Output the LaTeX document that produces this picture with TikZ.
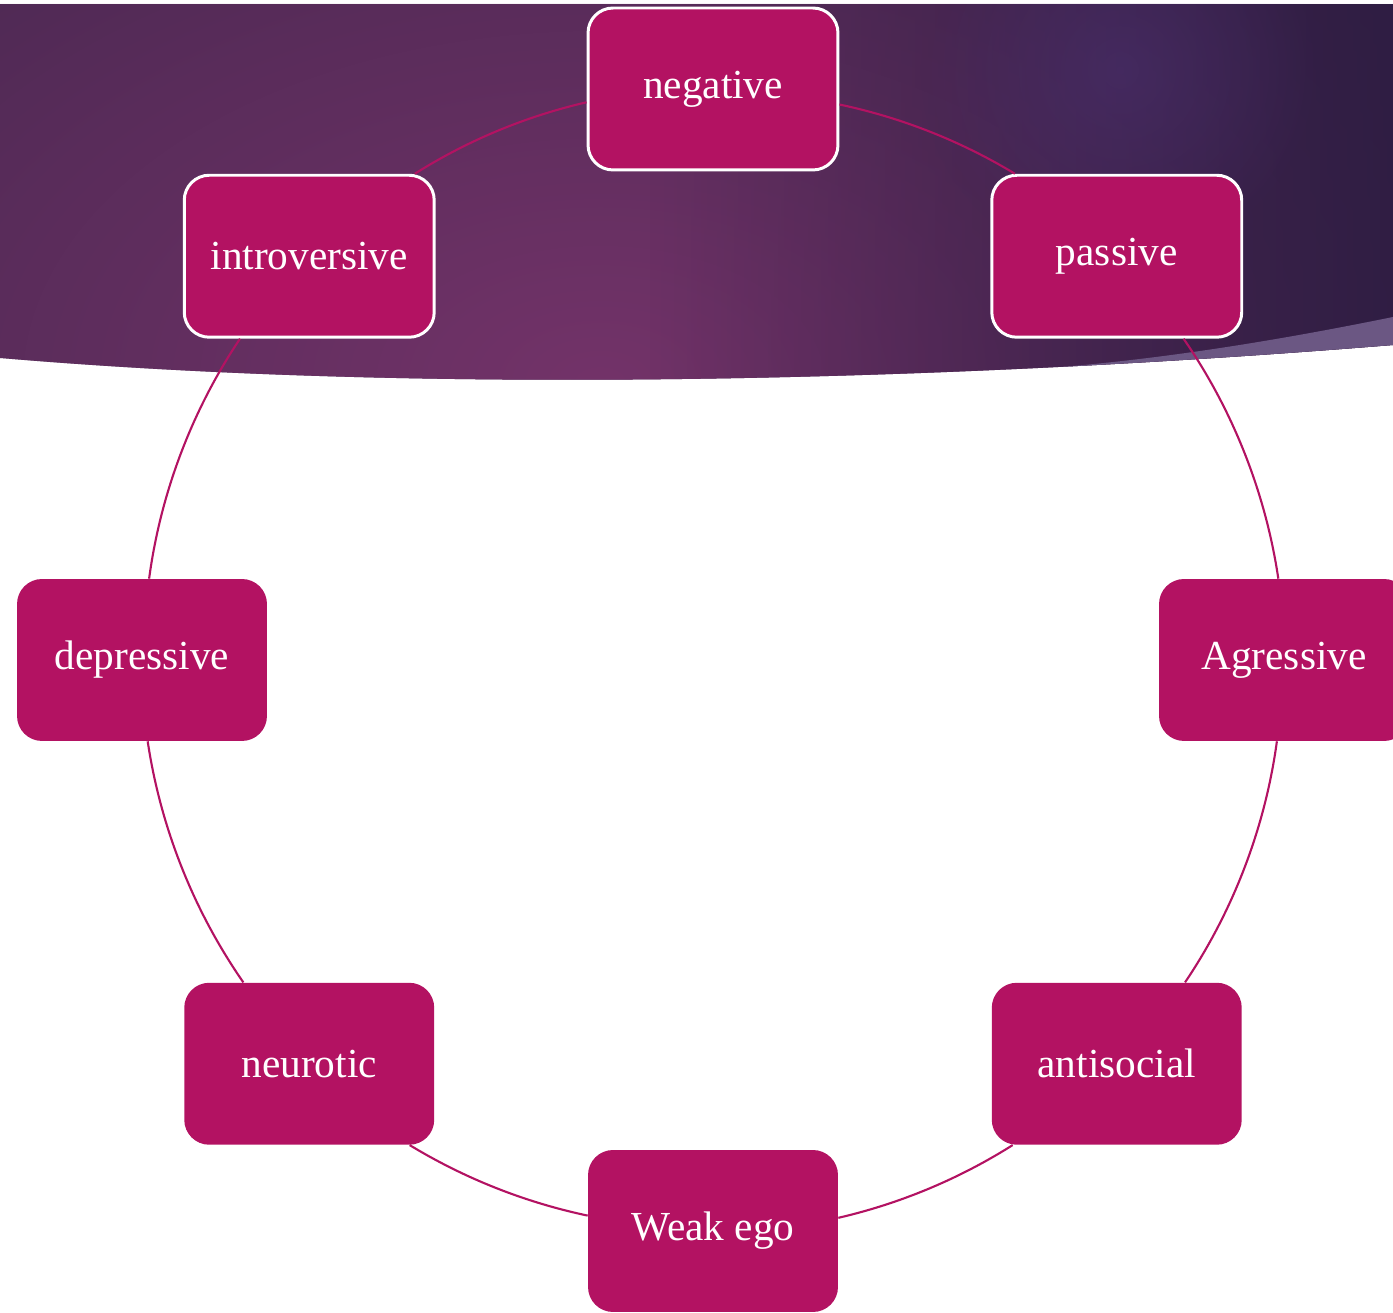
\documentclass[tikz,border=0pt]{standalone}
\usepackage{fontspec}
\setmainfont{Liberation Serif}
\usepackage{tikz}
\usetikzlibrary{backgrounds,fadings}

\definecolor{ringpink}{HTML}{B31262}
\definecolor{bandbase}{HTML}{45274F}
\definecolor{bandglow}{HTML}{733369}
\definecolor{bandnight}{HTML}{2B1C41}
\definecolor{bandspot}{HTML}{4A3070}
\definecolor{bandsliver}{HTML}{6B5783}

\tikzfading[name=glowfade, inner color=transparent!0, outer color=transparent!100]
\tikzfading[name=spotfade, inner color=transparent!45, outer color=transparent!100]
\tikzfading[name=darkfade, left color=transparent!100, right color=transparent!0]

\begin{document}
\begin{tikzpicture}[
    x=0.02cm, y=0.02cm,
    box/.style = {rectangle, rounded corners=0.5cm, fill=ringpink, minimum width=5cm, minimum height=3.24cm, inner sep=0pt, text=white, font=\fontsize{23.5}{28}\selectfont},
    framed/.style = {draw=white, line width=1.7pt},
    link/.style = {draw=ringpink, line width=1.2pt, looseness=0.86},
    short/.style = {bend right=9.63},
    long/.style = {bend right=13.13}
]
    \useasboundingbox (0,0) rectangle (1393,1312);
    \clip (0,0) rectangle (1393,1312);

    % Centre of the ring
    \coordinate (ring) at (713,652);

    % Boxes round the ring
    \node[box, framed] (neg) at ([shift={(90:571)}]ring) {negative};
    \node[box, framed] (intro) at ([shift={(135:571)}]ring) {introversive};
    \node[box] (depr) at ([shift={(180:571)}]ring) {depressive};
    \node[box] (neur) at ([shift={(225:571)}]ring) {neurotic};
    \node[box] (weak) at ([shift={(270:571)}]ring) {Weak ego};
    \node[box] (anti) at ([shift={(315:571)}]ring) {antisocial};
    \node[box] (aggr) at ([shift={(0:571)}]ring) {Agressive};
    \node[box, framed] (pass) at ([shift={(45:571)}]ring) {passive};

    % Arcs between the boxes, ending where the ring meets each border
    \draw[link, short] (neg.186.32) to (intro.38.45);
    \draw[link, long] (intro.230.29) to (depr.85.93);
    \draw[link, long] (depr.274.07) to (neur.129.71);
    \draw[link, short] (neur.321.55) to (weak.173.68);
    \draw[link, short] (weak.6.32) to (anti.218.45);
    \draw[link, long] (anti.50.29) to (aggr.265.93);
    \draw[link, long] (aggr.94.07) to (pass.309.71);
    \draw[link, short] (pass.141.55) to (neg.353.68);

    % Banner behind the top
    \begin{scope}[on background layer]
        \clip (0,1308) -- (1393,1308) -- (1393,967) .. controls (900,927) and (400,920) .. (0,954) -- cycle;
        \fill[bandbase] (0,900) rectangle (1393,1308);
        \fill[bandglow, path fading=glowfade] (600,930) ellipse [x radius=1150, y radius=700];
        \fill[bandnight, path fading=darkfade] (650,900) rectangle (1500,1308);
        \fill[bandspot, path fading=spotfade] (1120,1242) circle (200);
        \fill[bandsliver] (1020,942) .. controls (1150,950) and (1280,972) .. (1393,995) -- (1393,900) -- (1020,900) -- cycle;
    \end{scope}
\end{tikzpicture}
\end{document}
